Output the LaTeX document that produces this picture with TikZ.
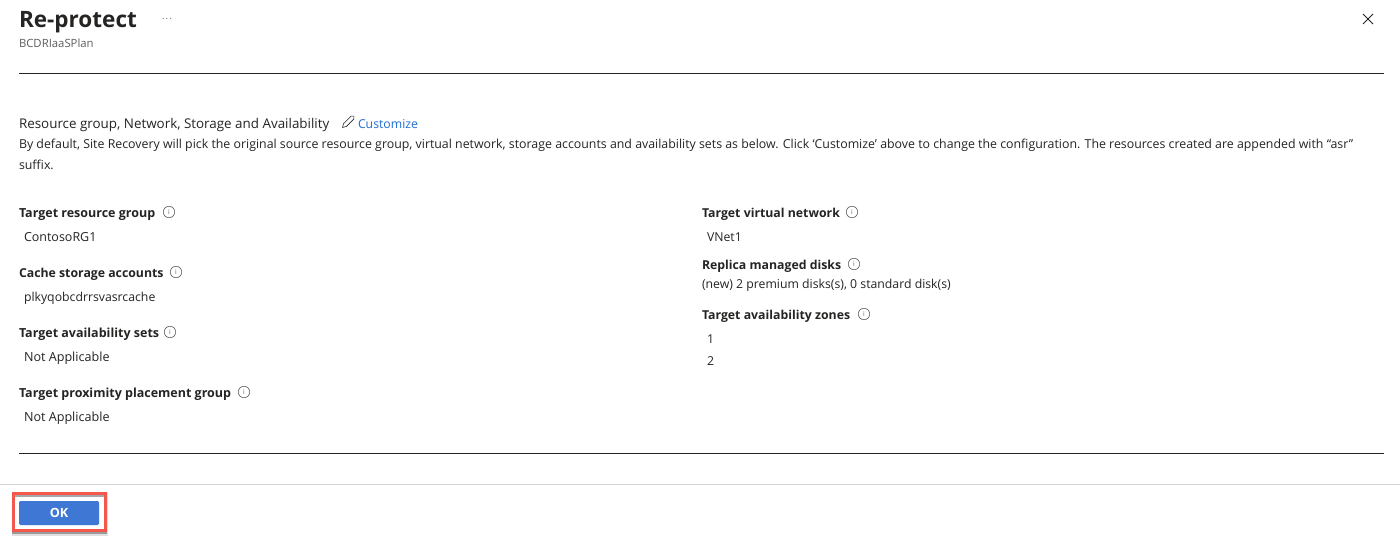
\documentclass[tikz,border=0pt]{standalone}
\usepackage{fontspec}
\setmainfont{Open Sans}
\usetikzlibrary{calc}
\definecolor{ink}{HTML}{252423}
\definecolor{grey}{HTML}{5F5E5C}
\definecolor{azlink}{HTML}{1F6FD0}
\definecolor{okblue}{HTML}{3E78D4}
\definecolor{redbox}{HTML}{F4584C}
\tikzset{
  txt/.style={anchor=base west,inner sep=0pt,outer sep=0pt,text=ink,font=\fontsize{9.2}{11}\selectfont},
  lbl/.style={txt,font=\fontsize{9.37}{11}\selectfont\bfseries},
  lblr/.style={txt,font=\fontsize{9.22}{11}\selectfont\bfseries},
  infoicon/.style={circle,draw=grey,line width=0.45pt,minimum size=8.6pt,inner sep=0pt,text=grey,font=\fontsize{5}{5}\selectfont},
  rule/.style={draw=ink,line width=0.75pt},
}
\begin{document}
\begin{tikzpicture}[x=0.75pt,y=-0.75pt]
\useasboundingbox (0,0) rectangle (1400,536);
\fill[white] (0,0) rectangle (1400,536);
\node[txt,font=\fontsize{16.9}{22}\selectfont\bfseries] (title) at (19,27) {Re-protect};
\node[txt,text=grey!80,anchor=base,font=\fontsize{7.5}{9}\selectfont] (more) at (167,22) {·\kern0.7pt·\kern0.7pt·};
\node[txt,text=grey,font=\fontsize{8.5}{10}\selectfont] (sub) at (19,47) {BCDRIaaSPlan};
\coordinate (closea) at (1363,14); \coordinate (closeb) at (1373,24);
\coordinate (closec) at (1373,14); \coordinate (closed) at (1363,24);
\draw[ink,line width=0.6pt] (closea) -- (closeb) (closec) -- (closed);
\coordinate (r1a) at (19,73.5); \coordinate (r1b) at (1384,73.5);
\draw[rule] (r1a) -- (r1b);
\node[txt,font=\fontsize{10.05}{11}\selectfont] (head) at (19,128) {Resource group, Network, Storage and Availability};
\begin{scope}[shift={(342.5,127.5)},rotate=45]
\draw[ink,line width=0.45pt,line join=round] (0,0) -- (3.5,-2) -- (14,-2) -- (16,0) -- (14,2) -- (3.5,2) -- cycle;
\end{scope}
\node[txt,text=azlink] (cust) at (358,128) {Customize};
\node[txt,font=\fontsize{9.27}{11}\selectfont] (para1) at (19,148) {By default, Site Recovery will pick the original source resource group, virtual network, storage accounts and availability sets as below. Click ‘Customize’ above to change the configuration. The resources created are appended with “asr”};
\node[txt,font=\fontsize{9.27}{11}\selectfont] (para2) at (19,169) {suffix.};
% left column
\node[lbl] (l1) at (19,217) {Target resource group};
\node[infoicon] (i1) at (169,212) {i};
\node[txt,font=\fontsize{9.36}{11}\selectfont] (v1) at (24,241) {ContosoRG1};
\node[lblr] (l2) at (19,277) {Cache storage accounts};
\node[infoicon] (i2) at (176,272) {i};
\node[txt] (v2) at (24,301) {plkyqobcdrrsvasrcache};
\node[lbl] (l3) at (19,337) {Target availability sets};
\node[infoicon] (i3) at (170,332) {i};
\node[txt,font=\fontsize{9.45}{11}\selectfont] (v3) at (24,361) {Not Applicable};
\node[lbl] (l4) at (19,397) {Target proximity placement group};
\node[infoicon] (i4) at (244,392) {i};
\node[txt,font=\fontsize{9.45}{11}\selectfont] (v4) at (24,421) {Not Applicable};
% right column
\node[lblr] (r1) at (702,217) {Target virtual network};
\node[infoicon] (i5) at (852,212) {i};
\node[txt] (w1) at (707,241) {VNet1};
\node[lblr] (r2) at (702,269) {Replica managed disks};
\node[infoicon] (i6) at (854,264) {i};
\node[txt] (w2) at (702,288) {(new) 2 premium disks(s), 0 standard disk(s)};
\node[lblr] (r3) at (702,319) {Target availability zones};
\node[infoicon] (i7) at (864,314) {i};
\node[txt] (w3) at (707,343) {1};
\node[txt] (w4) at (707,365) {2};
\coordinate (r2a) at (19,453.5); \coordinate (r2b) at (1384,453.5);
\draw[rule] (r2a) -- (r2b);
\coordinate (r3a) at (0,484.5); \coordinate (r3b) at (1400,484.5);
\draw[draw=black!17,line width=0.75pt] (r3a) -- (r3b);
% button
\fill[black!12] (12,492) rectangle (108,536);
\fill[black!40] (12,492) rectangle (107,534);
\fill[white] (13,493) rectangle (105,531);
\fill[black!35] (15,495) rectangle (104,497);
\draw[redbox,line width=2.25pt] (13.5,493.5) rectangle (105.5,530.5);
\fill[okblue,rounded corners=1pt] (19,501) rectangle (99,525);
\node[txt,text=white,anchor=center,font=\fontsize{9.5}{11}\selectfont\bfseries] (ok) at (59,512.5) {OK};
\end{tikzpicture}
\end{document}
